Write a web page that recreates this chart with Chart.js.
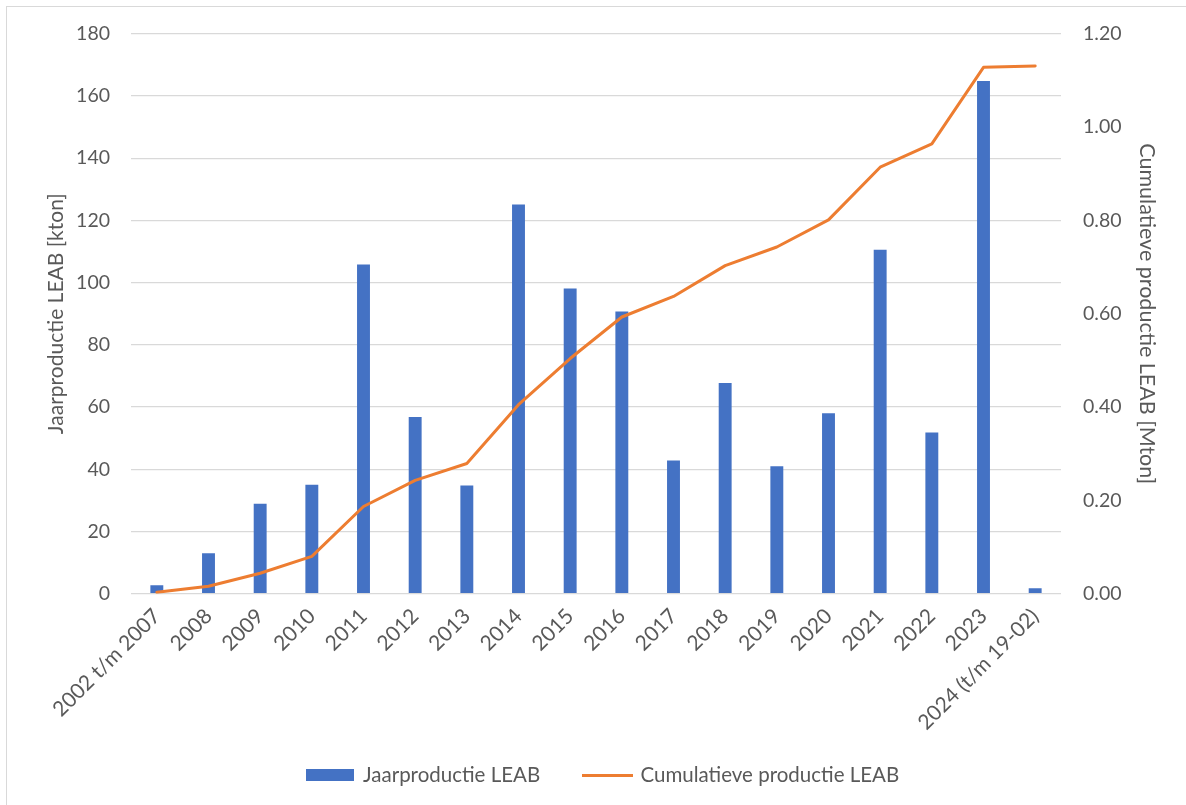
<!DOCTYPE html>
<html>
<head>
<meta charset="utf-8">
<script src="https://cdn.jsdelivr.net/npm/chart.js@4/dist/chart.umd.min.js"></script>
<style>
  html, body { margin: 0; padding: 0; background: #ffffff; overflow: hidden; }
  #wrap { position: relative; width: 1186px; height: 805px; }
  #frame { position: absolute; left: 6px; top: 6px; width: 1200px; height: 820px; border: 1px solid #d9d9d9; box-sizing: border-box; }
  #c { position: absolute; left: 0; top: 0; }
</style>
</head>
<body>
<div id="wrap">
  <div id="frame"></div>
  <canvas id="c" width="1186" height="805"></canvas>
</div>
<script>
const categories = ['2002 t/m 2007', '2008', '2009', '2010', '2011', '2012', '2013', '2014', '2015', '2016', '2017', '2018', '2019', '2020', '2021', '2022', '2023', '2024 (t/m 19-02)'];
const jaarproductie = [2.7, 13.0, 28.9, 35.0, 105.8, 56.8, 34.8, 125.1, 98.1, 90.7, 42.8, 67.7, 41.0, 58.0, 110.6, 51.8, 164.8, 1.8];
const cumulatief = [0.003, 0.016, 0.044, 0.080, 0.187, 0.243, 0.279, 0.405, 0.504, 0.593, 0.637, 0.703, 0.743, 0.801, 0.914, 0.964, 1.128, 1.131];
const seriesNames = ['Jaarproductie LEAB', 'Cumulatieve productie LEAB'];
const axisTitles = ['Jaarproductie LEAB [kton]', 'Cumulatieve productie LEAB [Mton]'];

const BLUE = '#4472c4';
const ORANGE = '#ed7d31';
const TEXT = '#595959';
const GRID = '#d9d9d9';
const FONT = 'Lato, "Open Sans", sans-serif';

function markerCanvas(w, h, color) {
  const cv = document.createElement('canvas');
  cv.width = w; cv.height = h;
  const cx = cv.getContext('2d');
  cx.fillStyle = color;
  cx.fillRect(0, 0, w, h);
  return cv;
}
const markers = [markerCanvas(48, 12, BLUE), markerCanvas(51, 3, ORANGE)];

const ctx = document.getElementById('c').getContext('2d');
new Chart(ctx, {
  type: 'bar',
  data: {
    labels: categories,
    datasets: [
      {
        type: 'bar',
        label: seriesNames[0],
        data: jaarproductie,
        backgroundColor: BLUE,
        borderWidth: 0,
        barPercentage: 0.25,
        categoryPercentage: 1.0,
        yAxisID: 'y',
        order: 2
      },
      {
        type: 'line',
        label: seriesNames[1],
        data: cumulatief,
        borderColor: ORANGE,
        backgroundColor: ORANGE,
        borderWidth: 3,
        pointRadius: 0,
        tension: 0,
        borderCapStyle: 'round',
        borderJoinStyle: 'round',
        fill: false,
        yAxisID: 'y2',
        order: 1
      }
    ]
  },
  options: {
    responsive: false,
    animation: false,
    devicePixelRatio: 1,
    layout: { padding: { left: 20, right: 0, top: 33, bottom: 9.75 } },
    plugins: {
      tooltip: { enabled: false },
      legend: {
        position: 'bottom',
        labels: {
          color: TEXT,
          font: { family: FONT, size: 20.5 },
          padding: 44,
          usePointStyle: true,
          pointStyleWidth: 46,
          sort: function(a, b) { return a.datasetIndex - b.datasetIndex; },
          generateLabels: function(chart) {
            const items = Chart.defaults.plugins.legend.labels.generateLabels(chart);
            items.forEach(function(it) {
              it.pointStyle = markers[it.datasetIndex];
            });
            return items;
          }
        }
      }
    },
    scales: {
      x: {
        grid: { display: false, drawTicks: false },
        border: { display: false },
        ticks: {
          color: TEXT,
          font: { family: FONT, size: 21 },
          minRotation: 45,
          maxRotation: 45,
          padding: 10,
          autoSkip: false
        },
        afterFit: function(scale) {
          scale.height = 127;
          scale._computeLabelArea = function() { return undefined; };
        }
      },
      y: {
        position: 'left',
        min: 0,
        max: 180,
        grid: { color: GRID, lineWidth: 1.3, drawTicks: false },
        border: { display: false },
        ticks: {
          stepSize: 20,
          color: TEXT,
          font: { family: FONT, size: 19.5 },
          padding: 21
        },
        title: {
          display: true,
          text: axisTitles[0],
          color: TEXT,
          font: { family: FONT, size: 21 },
          padding: { top: 23.4, bottom: 0 }
        },
        afterFit: function(scale) { scale.width = 111; }
      },
      y2: {
        position: 'right',
        min: 0,
        max: 1.2,
        grid: { display: false, drawTicks: false },
        border: { display: false },
        ticks: {
          stepSize: 0.2,
          color: TEXT,
          font: { family: FONT, size: 19.5 },
          padding: 22,
          callback: function(v) { return Number(v).toFixed(2); }
        },
        title: {
          display: true,
          text: axisTitles[1],
          color: TEXT,
          font: { family: FONT, size: 21.5 },
          padding: { top: 26.1, bottom: 0 }
        },
        afterFit: function(scale) { scale.width = 125; }
      }
    }
  }
});
</script>
</body>
</html>
